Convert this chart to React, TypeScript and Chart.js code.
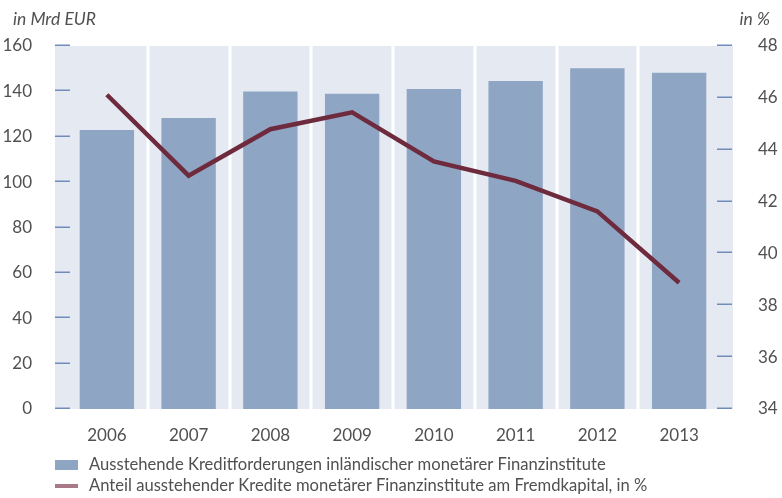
import React, { useEffect, useRef } from "react";
import { Chart, registerables } from "chart.js";

Chart.register(...registerables);

const years = ["2006", "2007", "2008", "2009", "2010", "2011", "2012", "2013"];
const kreditforderungen = [123, 128.3, 140, 138.9, 141, 144.6, 150.2, 148.2];
const anteilFremdkapital = [46.12, 43.0, 44.79, 45.44, 43.55, 42.8, 41.62, 38.87];
const leftTicks = [0, 20, 40, 60, 80, 100, 120, 140, 160];
const rightTicks = [34, 36, 38, 40, 42, 44, 46, 48];

const barLabel = "Ausstehende Kreditforderungen inländischer monetärer Finanzinstitute";
const lineLabel = "Anteil ausstehender Kredite monetärer Finanzinstitute am Fremdkapital, in %";
const leftTitle = "in Mrd EUR";
const rightTitle = "in %";

const FONT = "Lato, 'Open Sans', sans-serif";
const BAR_COLOR = "rgb(143,165,196)";
const LINE_COLOR = "rgb(110,43,61)";
const LINE_LEGEND_COLOR = "rgb(168,122,136)";
const BG_COLOR = "rgb(229,234,242)";
const TICK_COLOR = "rgb(112,140,186)";
const TEXT_COLOR = "#505050";

const decorPlugin = {
  id: "decor",
  beforeDraw(chart: any) {
    const { ctx, chartArea } = chart;
    const x = chart.scales.x;
    const y = chart.scales.y;
    const y1 = chart.scales.y1;
    const left = chartArea.left - 11;
    const right = chartArea.right + 13;
    ctx.save();
    ctx.fillStyle = BG_COLOR;
    ctx.fillRect(left, chartArea.top, right - left, chartArea.bottom - chartArea.top);
    ctx.fillStyle = "#ffffff";
    for (let i = 0; i < years.length - 1; i++) {
      const px = (x.getPixelForValue(i) + x.getPixelForValue(i + 1)) / 2;
      ctx.fillRect(Math.round(px) - 1.5, chartArea.top, 3, chartArea.bottom - chartArea.top);
    }
    ctx.strokeStyle = TICK_COLOR;
    ctx.lineWidth = 1.5;
    leftTicks.forEach((v) => {
      const py = Math.round(y.getPixelForValue(v)) - 0.75;
      ctx.beginPath();
      ctx.moveTo(left, py);
      ctx.lineTo(left + 15, py);
      ctx.stroke();
    });
    rightTicks.forEach((v) => {
      const py = Math.round(y1.getPixelForValue(v)) - 0.75;
      ctx.beginPath();
      ctx.moveTo(right - 16, py);
      ctx.lineTo(right - 1, py);
      ctx.stroke();
    });
    ctx.restore();
  },
  afterDraw(chart: any) {
    const { ctx } = chart;
    ctx.save();
    ctx.fillStyle = TEXT_COLOR;
    ctx.font = `italic 400 17.5px ${FONT}`;
    ctx.textBaseline = "middle";
    ctx.textAlign = "left";
    ctx.fillText(leftTitle, 13, 19);
    ctx.textAlign = "right";
    ctx.fillText(rightTitle, 770, 19);
    ctx.fillStyle = BAR_COLOR;
    ctx.fillRect(55, 460, 23, 10);
    ctx.fillStyle = LINE_LEGEND_COLOR;
    ctx.fillRect(55, 484, 23, 4);
    ctx.fillStyle = TEXT_COLOR;
    ctx.font = `400 16.6px ${FONT}`;
    ctx.textAlign = "left";
    ctx.fillText(barLabel, 89, 465);
    ctx.fillText(lineLabel, 89, 486);
    ctx.restore();
  },
};

export default function App() {
  const ref = useRef<HTMLCanvasElement>(null);
  useEffect(() => {
    if (!ref.current) return;
    const tickFont = { family: FONT, size: 17, weight: 400 as any };
    const chart = new Chart(ref.current, {
      type: "bar",
      data: {
        labels: years,
        datasets: [
          {
            type: "line",
            label: lineLabel,
            data: anteilFremdkapital,
            yAxisID: "y1",
            borderColor: LINE_COLOR,
            backgroundColor: LINE_LEGEND_COLOR,
            borderWidth: 4.5,
            pointRadius: 0,
            tension: 0,
            order: 0,
          } as any,
          {
            type: "bar",
            label: barLabel,
            data: kreditforderungen,
            yAxisID: "y",
            backgroundColor: BAR_COLOR,
            borderWidth: 0,
            barPercentage: 1,
            categoryPercentage: 0.665,
            order: 1,
          },
        ],
      },
      options: {
        responsive: false,
        animation: false,
        layout: { padding: { top: 46, left: 0, right: 0, bottom: 0 } },
        plugins: { legend: { display: false }, tooltip: { enabled: false } },
        scales: {
          x: {
            grid: { display: false },
            border: { display: false },
            ticks: { font: tickFont, color: TEXT_COLOR, padding: 8 },
            afterFit: (s: any) => {
              s.height = 89;
            },
          },
          y: {
            position: "left",
            min: 0,
            max: 160,
            grid: { display: false },
            border: { display: false },
            ticks: { stepSize: 20, font: tickFont, color: TEXT_COLOR, padding: 26 },
            afterFit: (s: any) => {
              s.width = 66;
            },
          },
          y1: {
            position: "right",
            min: 34,
            max: 48,
            grid: { display: false },
            border: { display: false },
            ticks: { stepSize: 2, font: tickFont, color: TEXT_COLOR, padding: 30 },
            afterFit: (s: any) => {
              s.width = 62;
            },
          },
        },
      },
      plugins: [decorPlugin],
    });
    return () => chart.destroy();
  }, []);
  return (
    <div style={{ position: "fixed", left: 0, top: 0, width: 782, height: 498 }}>
      <canvas ref={ref} width={782} height={498} />
    </div>
  );
}
